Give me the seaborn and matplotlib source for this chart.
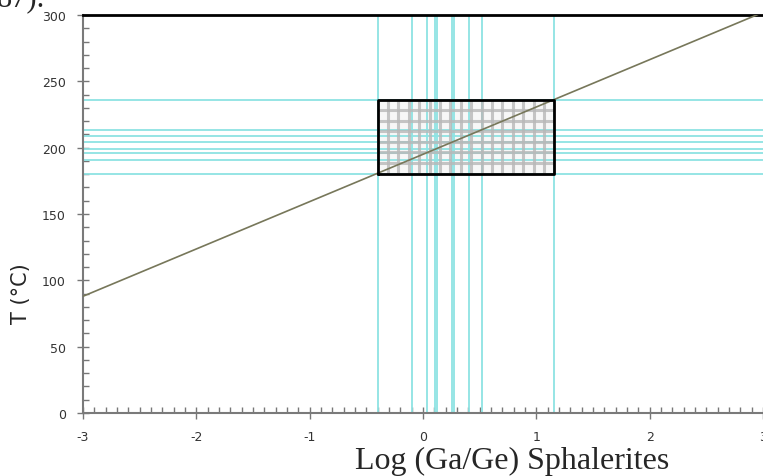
import numpy as np
import pandas as pd
import matplotlib
matplotlib.use('Agg')
import matplotlib.pyplot as plt
import seaborn as sns

# data
vert_x = [-0.40, -0.10, 0.035, 0.11, 0.125, 0.26, 0.275, 0.41, 0.52, 1.16]
horiz_T = [236, 213, 209, 204, 199, 196, 191, 180.5]
line_x = [-3, 3]
line_T = [88, 302]
x_ticks = [-3, -2, -1, 0, 1, 2, 3]
y_ticks = [0, 50, 100, 150, 200, 250, 300]

sns.set_style('white')
plt.rcParams['font.family'] = ['DejaVu Sans']
plt.rcParams['axes.unicode_minus'] = False

fig = plt.figure(figsize=(7.63, 4.77), dpi=100)
ax = fig.add_axes([0.1088, 0.132, 0.8912, 0.8345])

# grid box bounded by the extreme lines
x0, x1 = min(vert_x), max(vert_x)
y0, y1 = min(horiz_T), max(horiz_T)
ax.fill_between([x0, x1], y0, y1, color='#f7f7f7', zorder=1, lw=0)

# cyan lines
for v in vert_x:
    ax.axvline(v, color='#8ee3e3', lw=1.3, zorder=2)
ax.hlines(horiz_T, -3, 3, color='#8ee3e3', lw=1.3, zorder=2)

# grey mesh inside the box
ax.vlines(np.linspace(x0, x1, 18)[1:-1], y0, y1, color='#b8b8b8', lw=2.2, alpha=0.8, zorder=3)
ax.hlines(np.linspace(y0, y1, 8)[1:-1], x0, x1, color='#b8b8b8', lw=2.2, alpha=0.8, zorder=3)

# calibration line
df = pd.DataFrame({'x': line_x, 'T': line_T})
sns.lineplot(data=df, x='x', y='T', ax=ax, color='#77775a', lw=1.2, zorder=4)

# box border
ax.plot([x0, x1, x1, x0, x0], [y0, y0, y1, y1, y0], color='black', lw=2, zorder=5)

ax.set_xlim(-3, 3)
ax.set_ylim(0, 300)
ax.set_xticks(x_ticks)
ax.set_yticks(y_ticks)
ax.set_xticks(np.arange(-3, 3.01, 0.1), minor=True)
ax.set_yticks(np.arange(0, 301, 10), minor=True)
ax.tick_params(axis='both', which='major', direction='inout', length=9, width=1,
               color='#777777', labelsize=9, labelcolor='#333333')
ax.tick_params(axis='both', which='minor', direction='in', length=4, width=1, color='#777777')
ax.tick_params(axis='x', which='major', pad=8)
ax.tick_params(axis='y', which='major', pad=8)
ax.tick_params(axis='both', which='both', left=True, bottom=True)

for s in ['left', 'bottom']:
    ax.spines[s].set_color('#7a7a7a')
    ax.spines[s].set_linewidth(1.5)
ax.spines['top'].set_color('black')
ax.spines['top'].set_linewidth(2)
ax.spines['right'].set_visible(False)

ax.set_xlabel('')
ax.set_ylabel('')
fig.text(0.671, 0.002, 'Log (Ga/Ge) Sphalerites', family='Liberation Serif',
         fontsize=23, ha='center', va='bottom')
fig.text(0.028, 0.385, 'T (°C)', rotation=90, fontsize=15, ha='center', va='center')
fig.text(-0.004, 0.986, '87).', family='Liberation Serif', fontsize=22,
         ha='left', va='baseline')

fig.savefig('out.png', dpi=100)
